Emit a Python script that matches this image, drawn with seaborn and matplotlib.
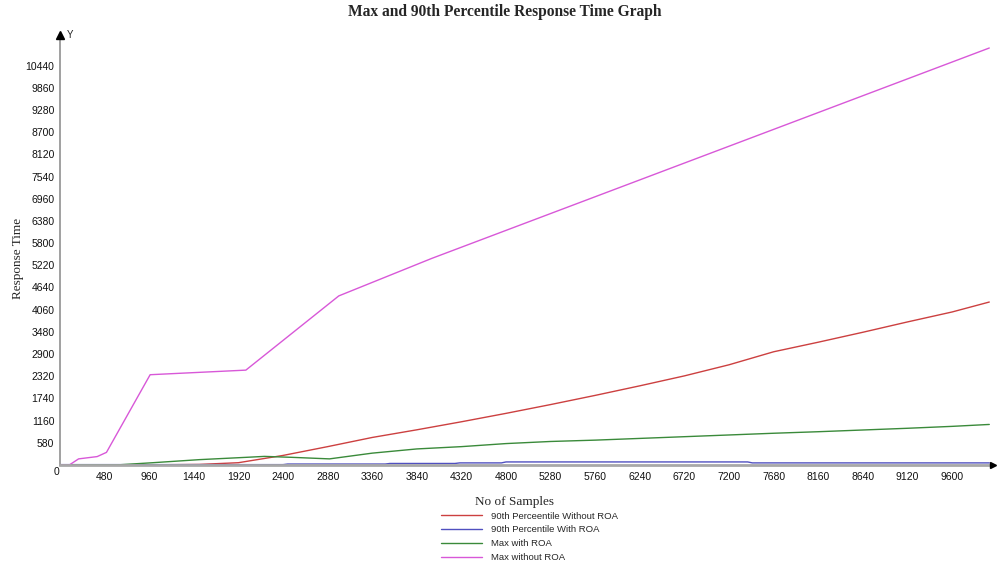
import pandas as pd
import seaborn as sns
import matplotlib.pyplot as plt

# Series (x = sample count, y = response time).
red_x = [0, 1000, 1500, 1920, 2400, 2880, 3360, 3840, 4320, 4800, 5280, 5760,
         6240, 6720, 7200, 7680, 8160, 8640, 9120, 9600, 10000]
red_y = [0, 5, 15, 60, 250, 480, 720, 920, 1130, 1350, 1580, 1820,
         2070, 2330, 2620, 2960, 3210, 3470, 3740, 4000, 4260]

blue_x = [0, 2400, 2450, 3500, 3550, 4250, 4300, 4750, 4800, 7400, 7450, 10000]
blue_y = [10, 10, 25, 25, 40, 40, 55, 55, 80, 80, 55, 55]

green_x = [0, 600, 1000, 1500, 2000, 2200, 2500, 2900, 3360, 3840, 4320, 4800,
           5280, 5760, 6240, 6720, 7200, 7680, 8160, 8640, 9120, 9600, 10000]
green_y = [0, 0, 60, 140, 200, 225, 200, 160, 310, 420, 480, 560,
           615, 650, 695, 740, 785, 830, 870, 915, 960, 1010, 1060]

magenta_x = [0, 100, 200, 400, 500, 970, 2000, 3000, 4000, 10000]
magenta_y = [0, 0, 160, 220, 330, 2360, 2480, 4420, 5400, 10900]

labels = ["90th Perceentile Without ROA", "90th Percentile With ROA",
          "Max with ROA", "Max without ROA"]
colors = ["#cc4040", "#5050c0", "#3a8a3a", "#d858d8"]

y_ticks = list(range(580, 10441, 580))
x_ticks = list(range(480, 9601, 480))

frames = []
for lab, xs, ys in zip(labels, [red_x, blue_x, green_x, magenta_x],
                       [red_y, blue_y, green_y, magenta_y]):
    frames.append(pd.DataFrame({"samples": xs, "time": ys, "series": lab}))
data = pd.concat(frames, ignore_index=True)

if __name__ == "__main__":
    sns.set_theme(style="white")
    plt.rcParams["font.family"] = ["Liberation Sans", "DejaVu Sans"]

    fig = plt.figure(figsize=(9.97, 5.67), dpi=100)
    ax = fig.add_axes([60 / 997, 102 / 567, 933 / 997, 430 / 567])

    sns.lineplot(data=data, x="samples", y="time", hue="series",
                 hue_order=labels, palette=colors, estimator=None, sort=False,
                 linewidth=1.0, ax=ax, legend=False)

    xmax, ymax = 10040, 11240
    ax.set_xlim(0, xmax)
    ax.set_ylim(0, ymax)

    ax.set_xticks(x_ticks)
    ax.set_yticks(y_ticks)
    ax.set_xticklabels([str(v) for v in x_ticks])
    ax.set_yticklabels([str(v) for v in y_ticks])
    ax.tick_params(axis="both", length=0, labelsize=7.5, colors="#111111")
    ax.tick_params(axis="x", pad=5)
    ax.tick_params(axis="y", pad=4)

    for side in ["top", "right"]:
        ax.spines[side].set_visible(False)
    ax.spines["left"].set_color("#909090")
    ax.spines["left"].set_linewidth(1.2)
    ax.spines["bottom"].set_color("#a8a8a8")
    ax.spines["bottom"].set_linewidth(2.0)

    # axis arrows
    ax.plot([0], [ymax], marker="^", color="black", markersize=6,
            clip_on=False, zorder=5)
    ax.plot([xmax], [0], marker=">", color="black", markersize=5,
            clip_on=False, zorder=5)
    ax.text(70, ymax, "Y", fontsize=7, va="center", ha="left", color="#222222")
    ax.text(-5, -60, "0", fontsize=7.5, va="top", ha="right", color="#111111")

    ax.set_xlabel("No of Samples", family="Liberation Serif", fontsize=9.5)
    ax.xaxis.set_label_coords(0.487, -0.072)
    ax.set_ylabel("Response Time", family="Liberation Serif", fontsize=9.5)
    ax.yaxis.set_label_coords(-0.039, 0.48)

    fig.text(0.506, 0.978, "Max and 90th Percentile Response Time Graph",
             family="Liberation Serif", fontweight="bold", fontsize=11.2,
             ha="center", va="center")

    handles = [plt.Line2D([], [], color=c, linewidth=1.0) for c in colors]
    fig.legend(handles, labels, loc="upper left",
               bbox_to_anchor=(436 / 997, 1 - 507 / 567), frameon=False,
               fontsize=6.8, handlelength=4.4, handletextpad=0.9,
               labelspacing=0.5, borderpad=0)

    fig.savefig("out.png", dpi=100)
